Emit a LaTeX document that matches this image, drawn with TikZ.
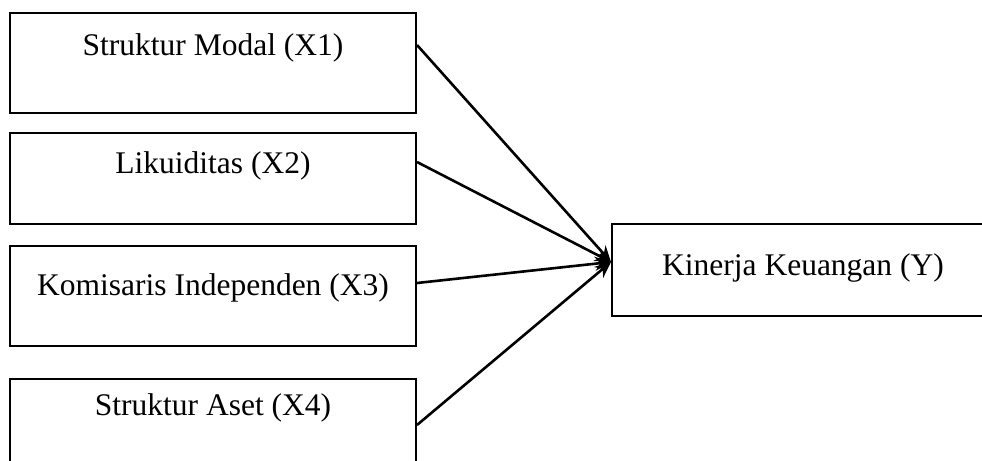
\documentclass[tikz,border=0pt]{standalone}
\usepackage{fontspec}
\setmainfont{Liberation Serif}
\usetikzlibrary{arrows.meta}
\begin{document}
\begin{tikzpicture}[x=0.5pt,y=-0.5pt]
% Configurable parameters
\def\bw{203pt}	% width of the left boxes.

% Styles
\tikzstyle{varbox}=[draw,line width=1pt,inner sep=0pt,anchor=base,
  font=\fontsize{15.75}{18}\selectfont]
\tikzstyle{effect}=[line width=1.3pt,-{Stealth[length=8pt,width=7pt]}]

\useasboundingbox (0,0) rectangle (982,461);

% The boxes
\node[varbox,minimum width=\bw,text height=21pt,text depth=29pt] (x1) at (213,55) {Struktur Modal (X1)};
\node[varbox,minimum width=\bw,text height=20pt,text depth=25.5pt] (x2) at (213,173) {Likuiditas (X2)};
\node[varbox,minimum width=\bw,text height=24.5pt,text depth=25.5pt] (x3) at (213,295) {Komisaris Independen (X3)};
\node[varbox,minimum width=\bw,text height=18pt,text depth=30pt] (x4) at (213,415) {Struktur Aset (X4)};
\node[varbox,minimum width=191pt,text height=25.5pt,text depth=20.5pt] (y) at (803,275) {Kinerja Keuangan (Y)};

% Point where the arrows meet.
\coordinate (tip) at ([yshift=4pt]y.west);

% Draw the arrows.
\draw[effect] ([yshift=9pt]x1.east) -- (tip);
\draw[effect] ([yshift=8.25pt]x2.east) -- (tip);
\draw[effect] ([yshift=6.5pt]x3.east) -- (tip);
\draw[effect] ([yshift=-5pt]x4.east |- x4.base) -- (tip);
\end{tikzpicture}
\end{document}
